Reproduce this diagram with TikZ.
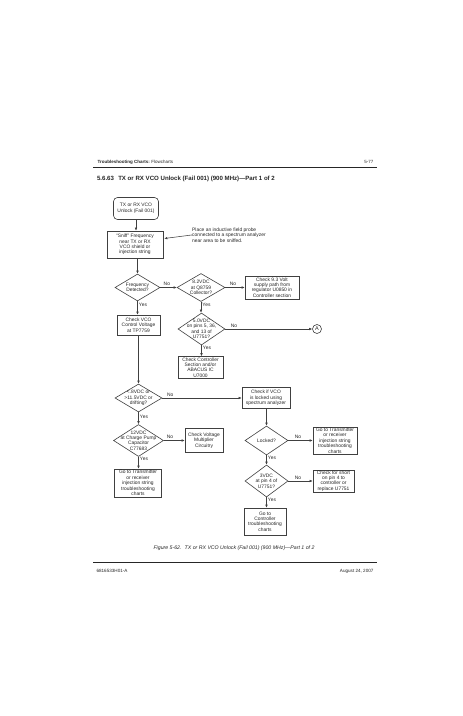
\documentclass[tikz,border=0pt]{standalone}
\usepackage{fontspec}
\setmainfont{Liberation Sans}
\usetikzlibrary{shapes.geometric,arrows.meta,calc}
\begin{document}
\begin{tikzpicture}[x=1pt,y=-1pt,
  every node/.style={font=\fontsize{4.9}{5.45}\selectfont, text=black!85},
  box/.style={draw=black!75, line width=0.6pt, fill=white, align=center, inner sep=0.5pt},
  dia/.style={draw=black!75, line width=0.6pt, fill=white, diamond, inner sep=0pt},
  lbl/.style={align=center, inner sep=0pt},
  arr/.style={draw=black!75, line width=0.55pt, -{Latex[length=3pt,width=2.6pt]}},
  yes/.style={anchor=west, inner sep=1.2pt},
  no/.style={anchor=south, inner sep=1.2pt},
  rulel/.style={line width=0.9pt, black!85}
]
\fill[white] (0,0) rectangle (463,716);
\useasboundingbox (0,0) rectangle (463,716);

% header
\node[anchor=base west, font=\fontsize{4.5}{5}\selectfont] (hdr) at (94,163.5) {\textbf{Troubleshooting Charts:} Flowcharts};
\node[anchor=base east, font=\fontsize{4.5}{5}\selectfont] (pg) at (377,163.5) {5-77};
\draw[rulel] (93,167.5) -- (377,167.5);
\node[anchor=base west, font=\bfseries\fontsize{6.1}{7}\selectfont] (title) at (93.5,180.5) {5.6.63\hspace{0.7em}TX or RX VCO Unlock (Fail 001) (900 MHz)---Part 1 of 2};

% nodes
\node[box, rounded corners=4pt, minimum width=45pt, minimum height=22pt] (start) at (136,208.5) {TX or RX VCO\\Unlock (Fail 001)};
\node[box, minimum width=56pt, minimum height=27pt] (sniff) at (135,244.5) {``Sniff'' Frequency\\near TX or RX\\VCO shield or\\injection string};
\node[anchor=north west, align=left, inner sep=0pt] (note) at (192,227.5) {Place an inductive field probe\\connected to a spectrum analyzer\\near area to be sniffed.};

\node[dia, minimum width=45pt, minimum height=27pt, label={[lbl]center:Frequency\\Detected?}] (freq) at (137.5,287.5) {};
\node[dia, minimum width=48pt, minimum height=28pt, label={[lbl]center:8.2VDC\\at Q8759\\Collector?}] (q) at (201,287.5) {};
\node[box, minimum width=54pt, minimum height=23pt] (c93) at (272,287.5) {Check 9.3 Volt\\supply path from\\regulator U0850 in\\Controller section};

\node[box, minimum width=43pt, minimum height=20pt] (cvco) at (138.5,325) {Check VCO\\Control Voltage\\at TP7759};
\node[dia, minimum width=47pt, minimum height=32pt, label={[lbl]center:5.0VDC\\on pins 5, 36,\\and 13 of\\U7751?}] (v50) at (201.5,329) {};
\node[circle, draw=black!75, line width=0.6pt, minimum size=9pt, inner sep=0pt, font=\fontsize{5.5}{6}\selectfont] (A) at (317,329) {A};

\node[box, minimum width=45pt, minimum height=22pt] (cctrl) at (200.5,367.5) {Check Controller\\Section and/or\\ABACUS IC\\U7000};

\node[dia, minimum width=47pt, minimum height=28pt, label={[lbl]center:<.8VDC or\\>11.5VDC or\\drifting?}] (v08) at (138.5,398) {};
\node[box, minimum width=48pt, minimum height=21pt] (cifv) at (266,398) {Check if VCO\\is locked using\\spectrum analyzer};

\node[dia, minimum width=50pt, minimum height=32pt, label={[lbl]center:12VDC\\at Charge Pump\\Capacitor\\C77683}] (v12) at (138.5,440.5) {};
\node[box, minimum width=38pt, minimum height=24pt] (cvm) at (204,440.5) {Check Voltage\\Multiplier\\Circuitry};
\node[dia, minimum width=43pt, minimum height=29pt, label={[lbl]center:Locked?}] (lock) at (266.5,440.5) {};
\node[box, minimum width=44pt, minimum height=27pt] (gtx2) at (335,440.5) {Go to Transmitter\\or receiver\\injection string\\troubleshooting\\charts};

\node[box, minimum width=47pt, minimum height=28pt] (gtx1) at (138,483) {Go to Transmitter\\or receiver\\injection string\\troubleshooting\\charts};
\node[dia, minimum width=43pt, minimum height=32pt, label={[lbl]center:3VDC\\at pin 4 of\\U7751?}] (v3) at (266.5,481) {};
\node[box, minimum width=41pt, minimum height=22pt] (short) at (333.5,481) {Check for short\\on pin 4 to\\controller or\\replace U7751};
\node[box, minimum width=42pt, minimum height=27pt] (gctrl) at (265,521.5) {Go to\\Controller\\troubleshooting\\charts};

% connectors
\draw[arr] (start.south) -- (start.south |- sniff.north);
\draw[arr] (note.west) -- ($(sniff.east)+(1,-6)$);
\draw[arr] (sniff.south -| freq.north) -- (freq.north);
\draw[arr] (freq.east) -- node[no, pos=0.4]{No} (q.west);
\draw[arr] (q.east) -- node[no, pos=0.4]{No} (c93.west);
\draw[arr] (freq.south) -- node[yes, pos=0.25]{Yes} (freq.south |- cvco.north);
\draw[arr] (q.south) -- node[yes, pos=0.3]{Yes} (q.south |- v50.north);
\draw[arr] (v50.east) -- node[no, pos=0.1]{No} (A.west);
\draw[arr] (v50.south) -- node[yes, pos=0.25]{Yes} (v50.south |- cctrl.north);
\draw[arr] (cvco.south -| v08.north) -- (v08.north);
\draw[arr] (v08.east) -- node[no, pos=0.1]{No} (cifv.west);
\draw[arr] (v08.south) -- node[yes, pos=0.35]{Yes} (v12.north);
\draw[arr] (v12.east) -- node[no, pos=0.3]{No} (cvm.west);
\draw[arr] (v12.south) -- node[yes, pos=0.2]{Yes} (v12.south |- gtx1.north);
\draw[arr] (cifv.south -| lock.north) -- (lock.north);
\draw[arr] (lock.east) -- node[no, pos=0.4]{No} (gtx2.west);
\draw[arr] (lock.south) -- node[yes, pos=0.3]{Yes} (v3.north);
\draw[arr] (v3.east) -- node[no, pos=0.4]{No} (short.west);
\draw[arr] (v3.south) -- node[yes, pos=0.27]{Yes} (v3.south |- gctrl.north);

% caption and footer
\node[font=\itshape\fontsize{5.2}{6}\selectfont, anchor=base] (cap) at (234,549) {Figure 5-62.\hspace{0.6em}TX or RX VCO Unlock (Fail 001) (900 MHz)---Part 1 of 2};
\draw[rulel] (93,562.5) -- (377,562.5);
\node[anchor=base west, font=\fontsize{4.6}{5}\selectfont] (docno) at (93,572) {6816533H01-A};
\node[anchor=base east, font=\fontsize{4.6}{5}\selectfont] (date) at (377,572) {August 24, 2007};
\end{tikzpicture}
\end{document}
